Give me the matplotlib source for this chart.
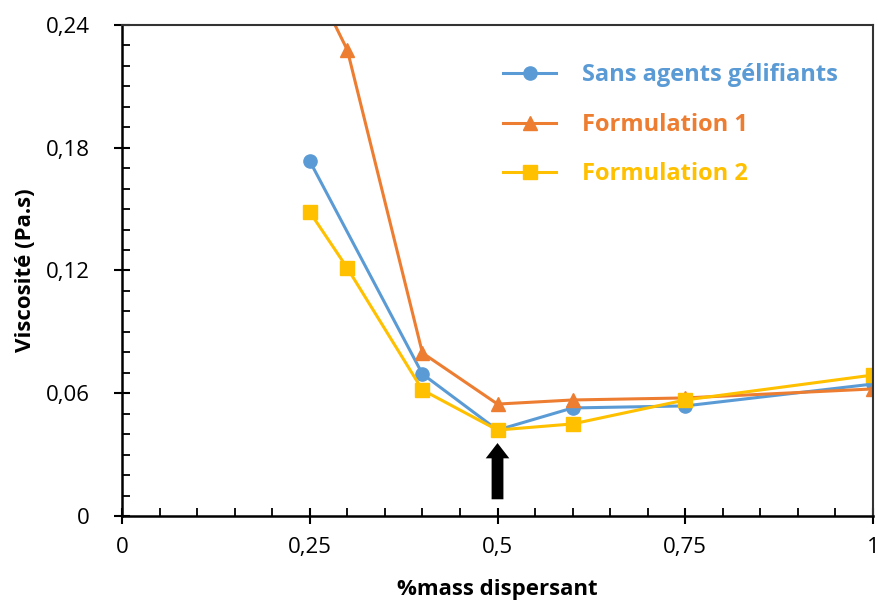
import numpy as np
import matplotlib.pyplot as plt
from matplotlib.ticker import MultipleLocator, FixedLocator, FixedFormatter

plt.rcParams['font.family'] = ['Open Sans', 'DejaVu Sans']

# data
x_sans = [0.25, 0.4, 0.5, 0.6, 0.75, 1.0]
y_sans = [0.1735, 0.0694, 0.0420, 0.0528, 0.0538, 0.0645]

x_f1 = [0.25, 0.3, 0.4, 0.5, 0.6, 0.75, 1.0]
y_f1 = [0.265, 0.2278, 0.0797, 0.0547, 0.0567, 0.0577, 0.0621]

x_f2 = [0.25, 0.3, 0.4, 0.5, 0.6, 0.75, 1.0]
y_f2 = [0.1486, 0.1212, 0.0616, 0.0420, 0.0450, 0.0567, 0.0689]

labels = ['Sans agents gélifiants', 'Formulation 1', 'Formulation 2']
colors = ['#5B9BD5', '#ED7D31', '#FFC000']

x_ticks = [0, 0.25, 0.5, 0.75, 1]
x_ticklabels = ['0', '0,25', '0,5', '0,75', '1']
y_ticks = [0, 0.06, 0.12, 0.18, 0.24]
y_ticklabels = ['0', '0,06', '0,12', '0,18', '0,24']

arrow_x = 0.5
arrow_from = 0.0068
arrow_to = 0.037

fig = plt.figure(figsize=(8.79, 6.02), dpi=100)
ax = fig.add_axes([0.1388, 0.1429, 0.8544, 0.8156])

ax.plot(x_sans, y_sans, color=colors[0], lw=2.2, marker='o', ms=9.5, label=labels[0])
ax.plot(x_f1, y_f1, color=colors[1], lw=2.2, marker='^', ms=10.5, label=labels[1])
ax.plot(x_f2, y_f2, color=colors[2], lw=2.2, marker='s', ms=9.5, label=labels[2])

ax.annotate('', xy=(arrow_x, arrow_to), xytext=(arrow_x, arrow_from),
            arrowprops=dict(arrowstyle='simple,head_width=1.7,head_length=1.1,tail_width=0.85',
                            color='black', lw=0))

ax.set_xlim(0, 1)
ax.set_ylim(0, 0.24)
ax.xaxis.set_major_locator(FixedLocator(x_ticks))
ax.xaxis.set_major_formatter(FixedFormatter(x_ticklabels))
ax.xaxis.set_minor_locator(MultipleLocator(0.05))
ax.yaxis.set_major_locator(FixedLocator(y_ticks))
ax.yaxis.set_major_formatter(FixedFormatter(y_ticklabels))
ax.yaxis.set_minor_locator(MultipleLocator(0.01))

ax.tick_params(which='major', direction='inout', length=12, width=1.5, labelsize=16)
ax.tick_params(which='minor', direction='in', length=6, width=1.3)
ax.tick_params(axis='x', which='major', pad=9)
ax.tick_params(axis='y', which='major', pad=17)

for s in ['left', 'bottom']:
    ax.spines[s].set_linewidth(1.8)
for s in ['top', 'right']:
    ax.spines[s].set_linewidth(1.5)
    ax.spines[s].set_color('#333333')

ax.set_xlabel('%mass dispersant', fontsize=16, fontweight='bold', labelpad=15)
ax.set_ylabel('Viscosité (Pa.s)', fontsize=16, fontweight='bold', labelpad=7)

leg = ax.legend(loc='upper right', bbox_to_anchor=(0.982, 0.965), frameon=False,
                handlelength=2.25, handletextpad=1.1, labelspacing=1.08,
                prop={'weight': 'bold', 'size': 17})
for txt, c in zip(leg.get_texts(), colors):
    txt.set_color(c)

plt.savefig('out.png', dpi=100)
